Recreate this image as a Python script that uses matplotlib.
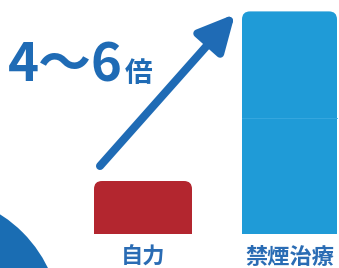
import matplotlib
matplotlib.use('Agg')
import matplotlib.pyplot as plt
from matplotlib.patches import FancyBboxPatch, Rectangle, Ellipse

# data
categories = ['自力', '禁煙治療']
values = [1.0, 4.2]            # relative success (self = 1)
bar_colors = ['#b3262f', '#1f9bd7']
headline = '4～6'
headline_unit = '倍'

W, H = 339, 268
base_px = 234                 # baseline in pixels from top
unit_px = 53.0                # pixels per value unit


def py(p):
    """pixel row -> value units"""
    return (base_px - p) / unit_px


plt.rcParams['font.family'] = ['Noto Sans CJK JP', 'DejaVu Sans']
fig = plt.figure(figsize=(W / 100, H / 100), dpi=100)
ax = fig.add_axes([0, 0, 1, 1])
ax.set_xlim(0, W)
ax.set_ylim(py(H), py(0))
ax.axis('off')

# big blue curve in the lower-left corner
r = 131
ax.add_patch(Ellipse((-70, py(325)), 2 * r, 2 * r / unit_px,
                     fc='#1a6db3', ec='none', zorder=1))

# bars with rounded top corners
centers = [143, 289.5]
widths = [98, 95]
for i, (cx, w, v, c) in enumerate(zip(centers, widths, values, bar_colors)):
    x0 = cx - w / 2
    p = FancyBboxPatch((x0, -0.5), w, v + 0.5,
                       boxstyle='round,pad=0,rounding_size=8',
                       mutation_aspect=1 / unit_px, fc=c, ec='none', zorder=2)
    ax.add_patch(p)
    clip = Rectangle((x0 - 5, 0), w + 10, v + 1, transform=ax.transData)
    p.set_clip_path(clip)
    ax.text(cx, py(245.5), categories[i], ha='center', va='top',
            fontsize=16, fontweight='bold', color='#2a6cb4', zorder=3)

# faint divider on the tall bar
ax.plot([centers[1] - widths[1] / 2, centers[1] + widths[1] / 2], [py(118)] * 2,
        color='#3aa9e0', lw=0.6, zorder=3)

# arrow
ax.annotate('', xy=(235, py(14)), xytext=(100, py(166)),
            arrowprops=dict(arrowstyle='-|>,head_length=1.1,head_width=0.55',
                            mutation_scale=20, lw=5.8, color='#1f6bb5',
                            capstyle='round', shrinkA=0, shrinkB=0),
            zorder=4)

# headline
ax.text(8, py(82), headline, ha='left', va='baseline', fontsize=38,
        fontweight='bold', color='#1f6bb5', zorder=4)
ax.text(125, py(82), headline_unit, ha='left', va='baseline', fontsize=20,
        fontweight='bold', color='#1f6bb5', zorder=4)

fig.savefig('out.png', dpi=100)
